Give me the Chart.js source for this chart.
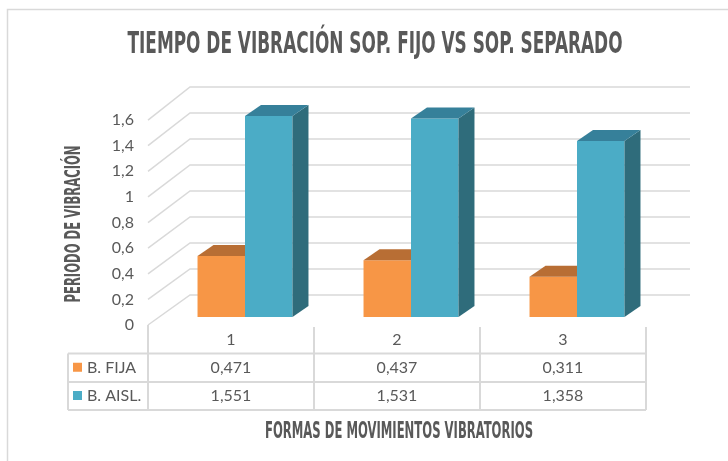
<!DOCTYPE html>
<html><head><meta charset="utf-8">
<script src="https://cdn.jsdelivr.net/npm/chart.js@4"></script>
<style>html,body{margin:0;padding:0;background:#fff}#wrap{width:728px;height:461px;position:relative}#c{display:block}</style>
</head><body>
<div id="wrap"><canvas id="c" width="728" height="461"></canvas></div>
<script>
const chartTitle = 'TIEMPO DE VIBRACIÓN SOP. FIJO VS SOP. SEPARADO';
const yAxisTitle = 'PERIODO DE VIBRACIÓN';
const xAxisTitle = 'FORMAS DE MOVIMIENTOS VIBRATORIOS';
const categories = ['1', '2', '3'];
const seriesNames = ['B. FIJA', 'B. AISL.'];
const fijaValues = [0.471, 0.437, 0.311];
const aislValues = [1.551, 1.531, 1.358];
const fijaTable = ['0,471', '0,437', '0,311'];
const aislTable = ['1,551', '1,531', '1,358'];
const yTickValues = [0, 0.2, 0.4, 0.6, 0.8, 1, 1.2, 1.4, 1.6];
const yTickLabels = ['0', '0,2', '0,4', '0,6', '0,8', '1', '1,2', '1,4', '1,6'];

const COLORS = {
  fijaFront: '#F79646', fijaTop: '#B86E34',
  aislFront: '#4BACC6', aislTop: '#36809A', aislSide: '#2F6C7B',
  grid: '#D9D9D9', text: '#595959', title: '#595959'
};
const BAR_DEPTH = { dx: 16, dy: -11 };
const FONT_COND = '"Liberation Sans Narrow", "DejaVu Sans Condensed", "Liberation Sans", sans-serif';
const FONT_TXT = 'Lato, "Noto Sans", sans-serif';

function drawFitted(ctx, text, x, y, size, targetW, rot) {
  ctx.save();
  ctx.font = 'bold ' + size + 'px ' + FONT_COND;
  const w = ctx.measureText(text).width;
  ctx.translate(x, y);
  if (rot) ctx.rotate(rot);
  ctx.scale(targetW / w, 1);
  ctx.textAlign = 'center';
  ctx.textBaseline = 'alphabetic';
  ctx.fillStyle = COLORS.title;
  ctx.fillText(text, 0, 0);
  ctx.restore();
}

function line(ctx, pts) {
  ctx.beginPath();
  ctx.moveTo(pts[0][0], pts[0][1]);
  for (let i = 1; i < pts.length; i++) ctx.lineTo(pts[i][0], pts[i][1]);
  ctx.stroke();
}

const plot3d = {
  id: 'plot3d',
  beforeDraw(chart) {
    const ctx = chart.ctx;
    ctx.save();
    ctx.fillStyle = '#fff';
    ctx.fillRect(0, 0, chart.width, chart.height);
    ctx.strokeStyle = COLORS.grid;
    ctx.lineWidth = 1.5;
    line(ctx, [[7.5, chart.height], [7.5, 9.5], [chart.width, 9.5]]);
    ctx.restore();
  },
  beforeDatasetsDraw(chart) {
    const ctx = chart.ctx, y = chart.scales.y, a = chart.chartArea;
    const y0 = y.getPixelForValue(0);
    ctx.save();
    ctx.strokeStyle = COLORS.grid;
    ctx.lineWidth = 1.5;
    ctx.fillStyle = COLORS.text;
    ctx.font = '16px ' + FONT_TXT;
    ctx.textAlign = 'right';
    ctx.textBaseline = 'middle';
    yTickValues.forEach((v, i) => {
      const h = y0 - y.getPixelForValue(v);
      const yf = y0 + 8 - h * 0.988;
      const yk = y0 - 22 - h * 1.003;
      line(ctx, [[a.left - 14, yf], [a.left + 28, yk], [a.right + 30, yk]]);
      ctx.fillText(yTickLabels[i], a.left - 28, yf);
    });
    ctx.restore();
  },
  afterDatasetDraw(chart, args) {
    const ctx = chart.ctx;
    const meta = args.meta;
    const isFija = args.index === 0;
    ctx.save();
    meta.data.forEach(bar => {
      const p = bar.getProps(['x', 'y', 'base', 'width'], true);
      const x0 = p.x - p.width / 2, x1 = p.x + p.width / 2;
      const top = p.y, bot = p.base;
      const dx = BAR_DEPTH.dx, dy = BAR_DEPTH.dy;
      if (isFija) {
        ctx.fillStyle = COLORS.fijaTop;
        ctx.beginPath();
        ctx.moveTo(x0, top); ctx.lineTo(x0 + dx, top + dy); ctx.lineTo(x1, top + dy); ctx.lineTo(x1, top);
        ctx.closePath(); ctx.fill();
      } else {
        ctx.fillStyle = COLORS.aislSide;
        ctx.beginPath();
        ctx.moveTo(x1, top); ctx.lineTo(x1 + dx, top + dy); ctx.lineTo(x1 + dx, bot + dy); ctx.lineTo(x1, bot);
        ctx.closePath(); ctx.fill();
        ctx.fillStyle = COLORS.aislTop;
        ctx.beginPath();
        ctx.moveTo(x0, top); ctx.lineTo(x0 + dx, top + dy); ctx.lineTo(x1 + dx, top + dy); ctx.lineTo(x1, top);
        ctx.closePath(); ctx.fill();
      }
    });
    ctx.restore();
  },
  afterDraw(chart) {
    const ctx = chart.ctx, x = chart.scales.x, a = chart.chartArea;
    const catW = (a.right - a.left) / categories.length;
    const colL = i => x.getPixelForValue(i) - catW / 2 - 14;
    const tableLeft = 68;
    const rows = [327, 353.5, 382, 410];
    const tableRight = colL(categories.length - 1) + catW;
    ctx.save();
    ctx.strokeStyle = COLORS.grid;
    ctx.lineWidth = 2;
    [rows[1], rows[2], rows[3]].forEach(yy => line(ctx, [[tableLeft, yy], [tableRight, yy]]));
    line(ctx, [[tableLeft, rows[1]], [tableLeft, rows[3]]]);
    line(ctx, [[colL(0), a.bottom + 8], [colL(0), rows[3]]]);
    for (let i = 0; i < categories.length; i++) {
      const xr = colL(i) + catW;
      line(ctx, [[xr, rows[0]], [xr, rows[3]]]);
    }
    ctx.fillStyle = COLORS.text;
    ctx.font = '16px ' + FONT_TXT;
    ctx.textAlign = 'center';
    ctx.textBaseline = 'middle';
    const rowMid = r => (rows[r] + rows[r + 1]) / 2;
    categories.forEach((c, i) => {
      const cx = colL(i) + catW / 2;
      ctx.fillText(c, cx, rowMid(0));
      ctx.fillText(fijaTable[i], cx, rowMid(1));
      ctx.fillText(aislTable[i], cx, rowMid(2));
    });
    ctx.textAlign = 'left';
    [[COLORS.fijaFront, seriesNames[0], rowMid(1)], [COLORS.aislFront, seriesNames[1], rowMid(2)]].forEach(([col, name, yy]) => {
      ctx.fillStyle = col;
      ctx.fillRect(73, yy - 5, 9, 9);
      ctx.fillStyle = COLORS.text;
      ctx.fillText(name, 87, yy);
    });
    ctx.restore();
    drawFitted(ctx, chartTitle, 375, 53, 31, 495, 0);
    drawFitted(ctx, yAxisTitle, 80, 224, 22, 157, -Math.PI / 2);
    drawFitted(ctx, xAxisTitle, 399, 438, 23, 268, 0);
  }
};

new Chart(document.getElementById('c'), {
  type: 'bar',
  data: {
    labels: categories,
    datasets: [
      { label: seriesNames[0], data: fijaValues, backgroundColor: COLORS.fijaFront },
      { label: seriesNames[1], data: aislValues, backgroundColor: COLORS.aislFront }
    ]
  },
  options: {
    responsive: false,
    animation: false,
    devicePixelRatio: 1,
    layout: { padding: { left: 162, right: 68, top: 109.6, bottom: 144 } },
    datasets: { bar: { categoryPercentage: 0.572, barPercentage: 1, borderWidth: 0 } },
    scales: {
      x: { display: false },
      y: { display: false, min: 0, max: 1.6 }
    },
    plugins: { legend: { display: false }, title: { display: false }, tooltip: { enabled: false } }
  },
  plugins: [plot3d]
});
</script>
</body></html>
